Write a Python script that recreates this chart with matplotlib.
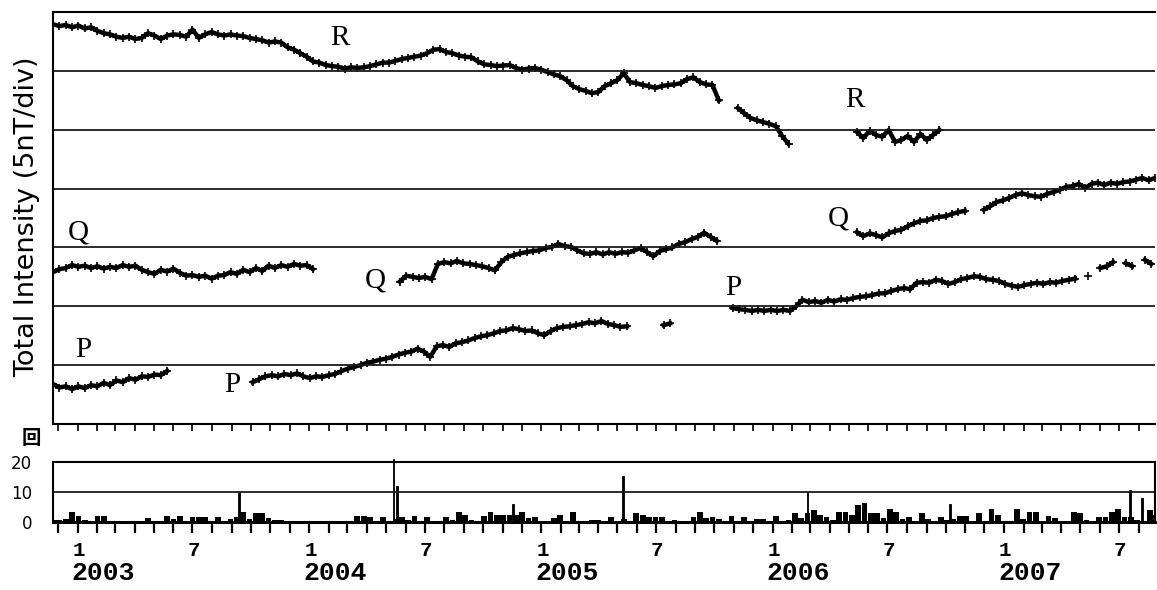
import numpy as np
import pandas as pd
import matplotlib
matplotlib.use("Agg")
import matplotlib.pyplot as plt
import matplotlib.dates as mdates

nan = np.nan

# total intensity in nT (one grid division = 5 nT), read every 10 days
start_a = "2002-11-23"
r1 = [33.96, 33.8, 33.9, 33.7, 33.85, 33.6, 33.7, 33.4, 33.2, 33.1,
      32.9, 32.8, 32.9, 32.7, 32.8, 33.2, 33.0, 32.7, 33.0, 33.1,
      33.05, 32.9, 33.5, 32.8, 33.1, 33.3, 33.1, 33.0, 33.1, 33.0,
      32.95, 32.8, 32.7, 32.6, 32.4, 32.5, 32.4, 32.0, 31.8, 31.5,
      31.2, 30.8, 30.7, 30.5, 30.4, 30.35, 30.2, 30.3, 30.25, 30.3,
      30.4, 30.55, 30.7, 30.7, 30.85, 31.0, 31.1, 31.2, 31.3, 31.5,
      31.8, 31.85, 31.6, 31.5, 31.3, 31.2, 31.15, 30.8, 30.55, 30.5,
      30.4, 30.45, 30.5, 30.25, 30.1, 30.2, 30.25, 30.1, 29.9, 29.7,
      29.55, 29.2, 28.7, 28.45, 28.3, 28.1, 28.2, 28.7, 28.95, 29.2,
      29.8, 29.05, 28.95, 28.8, 28.7, 28.55, 28.7, 28.8, 28.85, 28.95,
      29.3, 29.45, 29.05, 28.85, 28.8,
      27.5, nan, nan, 26.85, 26.4, 26.0, 25.8, 25.65, 25.5, 25.3, 24.45, 23.8]
r2_start = "2006-05-14"
r2 = [24.81, 24.3, 24.9, 24.55, 24.4, 24.98, 23.96, 24.13, 24.47, 23.96,
      24.64, 24.13, 24.55, 24.98]

q1 = [12.9, 13.15, 13.25, 13.5, 13.35, 13.45, 13.25, 13.4, 13.2, 13.35,
      13.25, 13.5, 13.35, 13.45, 13.1, 12.9, 12.75, 13.1, 12.95, 13.2,
      12.85, 12.6, 12.65, 12.5, 12.6, 12.35, 12.6, 12.65, 12.9, 12.75,
      13.1, 12.9, 13.25, 13.0, 13.45, 13.25, 13.5, 13.35, 13.6, 13.45,
      13.5, 13.15]
q2_start = "2004-05-23"
q2 = [12.1, 12.6, 12.5, 12.4, 12.5, 12.3, 13.6, 13.75, 13.65, 13.85,
      13.65, 13.6, 13.5, 13.4, 13.25, 13.05, 13.75, 14.2, 14.35, 14.5,
      14.6, 14.7, 14.75, 14.95, 15.05, 15.3, 15.1, 15.05, 14.75, 14.5,
      14.45, 14.6, 14.4, 14.6, 14.45, 14.6, 14.55, 14.75, 14.95, 14.6,
      14.25, 14.7, 14.85, 15.0, 15.3, 15.45, 15.7, 15.9, 16.25, 15.9,
      15.55]
q3_start = "2006-05-14"
q3 = [16.3, 15.95, 16.2, 16.05, 15.85, 16.2, 16.4, 16.5, 16.8, 17.05,
      17.25, 17.3, 17.5, 17.6, 17.65, 17.85, 18.0, 18.1, nan, nan,
      18.2, 18.5, 18.85, 19.0, 19.2, 19.45, 19.6, 19.45, 19.35, 19.3,
      19.55, 19.7, 19.9, 20.15, 20.2, 20.4, 20.05, 20.4, 20.5, 20.3,
      20.5, 20.4, 20.55, 20.6, 20.75, 20.9, 20.7, 20.9]

p1 = [3.4, 3.1, 3.2, 2.95, 3.2, 3.05, 3.3, 3.2, 3.5, 3.3,
      3.7, 3.55, 3.9, 3.75, 4.05, 4.0, 4.2, 4.15, 4.5]
p2_start = "2003-10-04"
p2 = [3.55, 3.8, 4.05, 4.15, 4.05, 4.25, 4.15, 4.3, 4.05, 3.9,
      4.05, 4.0, 4.15, 4.25, 4.5, 4.7, 4.85, 5.0, 5.2, 5.3,
      5.45, 5.55, 5.7, 5.9, 6.05, 6.15, 6.4, 6.15, 5.7, 6.6,
      6.7, 6.55, 6.85, 6.95, 7.1, 7.3, 7.45, 7.55, 7.7, 7.9,
      7.95, 8.15, 8.05, 7.9, 7.95, 7.7, 7.55, 7.9, 8.15, 8.25,
      8.3, 8.4, 8.5, 8.65, 8.55, 8.75, 8.5, 8.4, 8.25, 8.3]
p_blob_start = "2005-07-13"
p_blob = [8.4, 8.55]
p3_start = "2005-10-30"
p3 = [9.85, 9.75, 9.7, 9.6, 9.7, 9.6, 9.7, 9.6, 9.7, 9.6,
      10.0, 10.55, 10.35, 10.45, 10.3, 10.55, 10.4, 10.6, 10.55, 10.7,
      10.8, 10.85, 10.95, 11.1, 11.1, 11.3, 11.45, 11.55, 11.45, 12.0,
      12.05, 12.0, 12.25, 12.15, 11.9, 12.05, 12.3, 12.4, 12.55, 12.5,
      12.3, 12.25, 12.15, 11.9, 11.75, 11.65, 11.8, 11.9, 12.0, 11.9,
      12.05, 12.0, 12.15, 12.25, 12.35, nan, 12.55, nan, 13.25, 13.4,
      13.75, nan, 13.65, 13.4, nan, 13.95, 13.6]

segments = [(start_a, r1), (r2_start, r2),
            (start_a, q1), (q2_start, q2), (q3_start, q3),
            (start_a, p1), (p2_start, p2), (p_blob_start, p_blob), (p3_start, p3)]

# event counts (回), 10-day blocks from start_a
counts = [0.7, 0.7, 1.0, 3.4, 2.0, 0.8, 0.3, 2.0, 2.0, 0.5,
          0, 0.4, 0, 0.4, 0.3, 1.2, 0.3, 0.5, 2.0, 1.0,
          2.0, 0.4, 1.8, 1.8, 1.8, 0.5, 1.8, 0.4, 1.0, 1.8,
          3.4, 1.0, 2.9, 3.1, 1.2, 0.6, 0.6, 0.4, 0.4, 0.4,
          0.4, 0.4, 0.4, 0.4, 0.4, 0, 0, 0.4, 2.0, 2.0,
          1.8, 0.4, 1.8, 0.5, 1.0, 1.8, 0.6, 2.0, 0.5, 1.8,
          0.5, 0.4, 1.8, 0.6, 3.4, 2.3, 0.6, 0.5, 2.0, 3.4,
          2.3, 2.3, 2.3, 2.3, 3.4, 1.2, 1.8, 0.5, 0.4, 1.2,
          2.3, 0.5, 3.4, 0, 0, 0.7, 0.7, 0.4, 1.8, 0.4,
          1.0, 0.4, 2.9, 2.3, 1.8, 1.8, 1.8, 0.5, 0.7, 0.3,
          0.5, 1.8, 3.4, 1.2, 1.8, 1.0, 0.4, 2.1, 0.4, 1.8,
          0.4, 0.9, 1.0, 0.5, 2.0, 0.5, 0.7, 3.0, 1.2, 3.0,
          4.0, 2.3, 1.8, 0.8, 3.5, 3.5, 2.3, 5.7, 6.4, 2.9,
          2.9, 1.5, 4.5, 3.4, 1.0, 1.8, 0.5, 2.9, 1.0, 0.5,
          1.8, 0.7, 1.0, 2.0, 2.0, 0.5, 2.9, 0.5, 4.5, 2.3,
          0.4, 0.5, 4.5, 1.0, 3.4, 3.4, 0.5, 2.0, 1.2, 0.3,
          0.5, 3.2, 2.9, 0.6, 0.5, 1.8, 1.8, 3.4, 4.5, 1.8,
          1.8, 0.7, 0.5, 4.0, 2.3]
spike_dates = ["2003-09-12", "2004-05-13", "2004-05-18", "2004-11-18", "2005-05-10",
               "2006-02-25", "2006-10-07", "2007-07-18", "2007-08-06"]
spike_vals = [10, 21, 12, 6, 15.3, 10, 6, 10.7, 7.9]

month_dates = ["2003-01-01", "2003-07-01", "2004-01-01", "2004-07-01", "2005-01-01",
               "2005-07-01", "2006-01-01", "2006-07-01", "2007-01-01", "2007-07-01"]
month_labels = ["1", "7", "1", "7", "1", "7", "1", "7", "1", "7"]
year_dates = ["2003-01-01", "2004-01-01", "2005-01-01", "2006-01-01", "2007-01-01"]
year_labels = ["2003", "2004", "2005", "2006", "2007"]

# series letters, placed in axes fractions
letters = [("R", 0.2604, 0.9369), ("R", 0.7278, 0.7864),
           ("Q", 0.0227, 0.4636), ("Q", 0.2922, 0.3495), ("Q", 0.7123, 0.4999),
           ("P", 0.0272, 0.1796), ("P", 0.1624, 0.0947), ("P", 0.6171, 0.3301)]

W, H = 1157, 590
fig = plt.figure(figsize=(W / 100, H / 100), dpi=100)
ax = fig.add_axes([53 / W, 1 - 424 / H, 1102 / W, 412 / H])
ax2 = fig.add_axes([53 / W, 1 - 522 / H, 1102 / W, 60 / H])
xmin, xmax = pd.Timestamp("2002-11-23"), pd.Timestamp("2007-08-27")

for start, vals in segments:
    d = pd.date_range(start, periods=len(vals), freq="10D")
    ax.plot(d, vals, color="black", lw=3.2, marker="+", ms=6, mew=1.2)

for y in range(5, 35, 5):
    ax.axhline(y, color="#1a1a1a", lw=1.3)
ax.set_ylim(0, 35)
ax.set_xlim(xmin, xmax)
ax.set_yticks([])
ax.xaxis.set_major_locator(mdates.MonthLocator())
ax.tick_params(axis="x", direction="out", length=5, width=1.2, labelbottom=False)
ax.spines["right"].set_visible(False)
for s in ["left", "top", "bottom"]:
    ax.spines[s].set_linewidth(1.5)

for txt, fx, fy in letters:
    ax.text(fx, fy, txt, transform=ax.transAxes, ha="center", va="center",
            fontsize=21, family="Liberation Serif")

# lower panel: counts
cd = pd.date_range(start_a, periods=len(counts), freq="10D")
ax2.bar(cd, counts, width=9, color="black", clip_on=True)
ax2.bar(pd.to_datetime(spike_dates), spike_vals, width=3, color="black",
        edgecolor="black", linewidth=0.6, clip_on=False)
ax2.axhline(10, color="#1a1a1a", lw=1.3)
ax2.set_ylim(0, 20)
ax2.set_xlim(xmin, xmax)
ax2.set_yticks([0, 10, 20])
ax2.set_yticklabels(["0", "10", "20"], fontsize=12)
ax2.tick_params(axis="y", length=0, pad=15)
ax2.xaxis.set_major_locator(mdates.MonthLocator())
ax2.tick_params(axis="x", direction="out", length=8, width=1.6, labelbottom=False)
for s in ax2.spines.values():
    s.set_linewidth(1.5)
ax2.spines["bottom"].set_linewidth(2.2)

xt = ax2.get_xaxis_transform()
for d, lab in zip(month_dates, month_labels):
    ax2.annotate(lab, xy=(mdates.date2num(pd.Timestamp(d)), 0), xycoords=xt,
                 xytext=(-5, -29), textcoords="offset pixels", ha="left", va="center",
                 fontsize=15, fontweight="bold", family="Liberation Mono")
for d, lab in zip(year_dates, year_labels):
    ax2.annotate(lab, xy=(mdates.date2num(pd.Timestamp(d)), 0), xycoords=xt,
                 xytext=(-6, -51), textcoords="offset pixels", ha="left", va="center",
                 fontsize=19, fontweight="bold", family="Liberation Mono")

fig.text(27 / W, 1 - 217 / H, "Total Intensity (5nT/div)", rotation=90,
         ha="center", va="center", fontsize=19.5)
fig.text(31 / W, 1 - 439 / H, "回", ha="center", va="center", fontsize=14,
         fontweight="bold", family=["Noto Sans CJK JP", "DejaVu Sans"])

fig.savefig("out.png", dpi=100)
